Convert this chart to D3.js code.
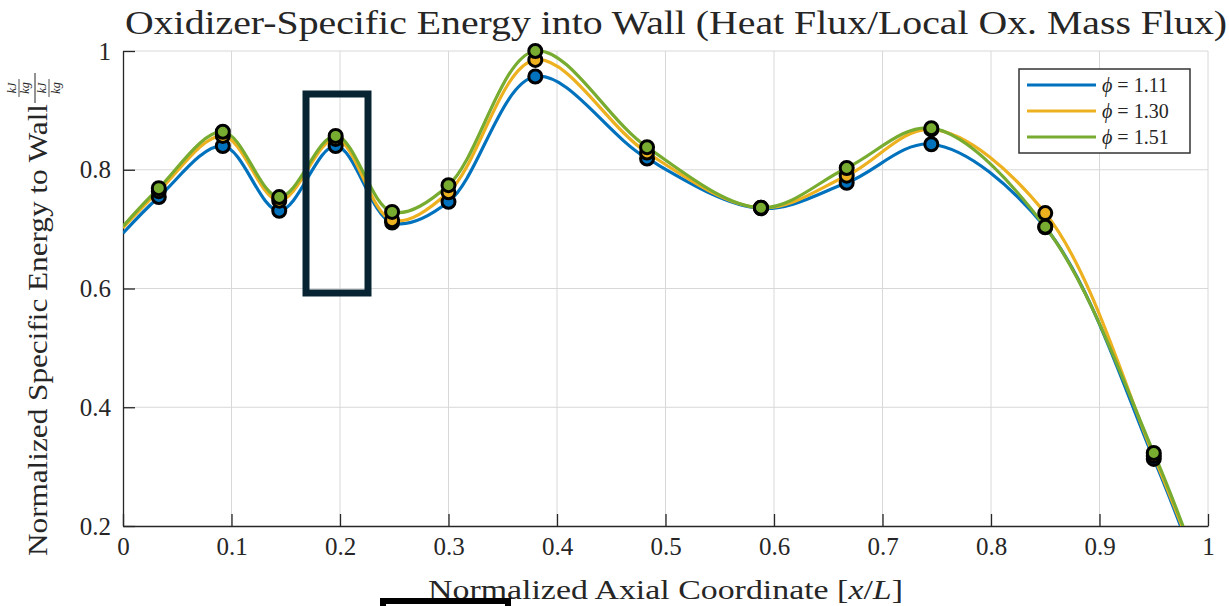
<!DOCTYPE html>
<html><head><meta charset="utf-8">
<script src="https://cdn.jsdelivr.net/npm/d3@7"></script>
<style>
html,body{margin:0;padding:0;background:#fff;}
svg{display:block;}
text{font-family:"Liberation Serif","DejaVu Serif",serif;fill:#262626;}
</style></head>
<body>
<svg id="c" width="1229" height="606"></svg>
<script>
// ---- data ----
const xPositions = [0.033, 0.092, 0.144, 0.196, 0.248, 0.300, 0.380, 0.483, 0.588, 0.667, 0.745, 0.850, 0.950];
const phi111 = [0.754, 0.840, 0.731, 0.840, 0.711, 0.746, 0.957, 0.819, 0.735, 0.778, 0.843, 0.703, 0.313];
const phi130 = [0.764, 0.857, 0.748, 0.852, 0.715, 0.762, 0.985, 0.829, 0.736, 0.790, 0.868, 0.727, 0.318];
const phi151 = [0.769, 0.864, 0.754, 0.857, 0.729, 0.774, 1.000, 0.838, 0.736, 0.803, 0.870, 0.704, 0.323];
const curveStart = [0.693, 0.702, 0.705];   // curve value at x = 0
const curveEnd = [0.075, 0.085, 0.085];     // curve value at x = 1 (below visible range)
const seriesNames = ["\u03D5 = 1.11", "\u03D5 = 1.30", "\u03D5 = 1.51"];
const seriesColors = ["#0072BD", "#EDB120", "#77AC30"];
const xTicks = [0, 0.1, 0.2, 0.3, 0.4, 0.5, 0.6, 0.7, 0.8, 0.9, 1];
const yTicks = [0.2, 0.4, 0.6, 0.8, 1];
const titleText = "Oxidizer-Specific Energy into Wall (Heat Flux/Local Ox. Mass Flux)";
const xLabelText = "Normalized Axial Coordinate ";
const yLabelText = "Normalized Specific Energy to Wall";

const seriesValues = [phi111, phi130, phi151];

const svg = d3.select("#c");
const L = 123, R = 1208, T = 51, B = 526;
const x = d3.scaleLinear().domain([0, 1]).range([L, R]);
const y = d3.scaleLinear().domain([0.2, 1]).range([B, T]);

// grid
const grid = svg.append("g");
grid.selectAll("line.gx").data(xTicks.slice(1)).join("line")
  .attr("x1", d => x(d)).attr("x2", d => x(d)).attr("y1", T).attr("y2", B)
  .attr("stroke", "#d8d8d8").attr("stroke-width", 1);
grid.selectAll("line.gy").data(yTicks.slice(1)).join("line")
  .attr("x1", L).attr("x2", R).attr("y1", d => y(d)).attr("y2", d => y(d))
  .attr("stroke", "#d8d8d8").attr("stroke-width", 1);

// axes
const fmt = d => (d === 0 || d === 1) ? String(d) : d.toFixed(1);
const xAxis = d3.axisBottom(x).tickValues(xTicks).tickFormat(fmt).tickSizeInner(-12).tickSizeOuter(0).tickPadding(22);
const yAxis = d3.axisLeft(y).tickValues(yTicks).tickFormat(fmt).tickSizeInner(-12).tickSizeOuter(0).tickPadding(24);
const gx = svg.append("g").attr("transform", `translate(0,${B})`).call(xAxis);
const gy = svg.append("g").attr("transform", `translate(${L},0)`).call(yAxis);
[gx, gy].forEach(g => {
  g.select(".domain").attr("stroke", "#262626").attr("stroke-width", 1.3);
  g.selectAll(".tick line").attr("stroke", "#262626").attr("stroke-width", 1.3);
  g.selectAll(".tick text").attr("font-family", "'Liberation Serif', serif").attr("font-size", 25).attr("fill", "#262626");
});
gx.selectAll(".tick text").attr("dy", "0.71em").attr("y", 11);
gy.selectAll(".tick text").attr("x", -12).attr("dy", "0.32em");

// clip
svg.append("clipPath").attr("id", "clip").append("rect")
  .attr("x", L).attr("y", T - 10).attr("width", R - L + 10).attr("height", B - T + 10);

// lines
const line = d3.line().x(d => x(d[0])).y(d => y(d[1])).curve(d3.curveCatmullRom.alpha(0.5));
const lineG = svg.append("g").attr("clip-path", "url(#clip)");
seriesValues.forEach((vals, i) => {
  const pts = [[0, curveStart[i]]].concat(xPositions.map((xv, j) => [xv, vals[j]])).concat([[1, curveEnd[i]]]);
  lineG.append("path").datum(pts).attr("d", line)
    .attr("fill", "none").attr("stroke", seriesColors[i]).attr("stroke-width", 3.2)
    .attr("stroke-linejoin", "round");
});
// markers
seriesValues.forEach((vals, i) => {
  svg.append("g").selectAll("circle").data(xPositions.map((xv, j) => [xv, vals[j]])).join("circle")
    .attr("cx", d => x(d[0])).attr("cy", d => y(d[1])).attr("r", 6.5)
    .attr("fill", seriesColors[i]).attr("stroke", "#000").attr("stroke-width", 3);
});

// legend
const lg = svg.append("g");
lg.append("rect").attr("x", 1019).attr("y", 69).attr("width", 171).attr("height", 84)
  .attr("fill", "#fff").attr("stroke", "#333").attr("stroke-width", 1.5);
seriesNames.forEach((n, i) => {
  const yy = 85 + i * 26;
  lg.append("line").attr("x1", 1027).attr("x2", 1096).attr("y1", yy).attr("y2", yy)
    .attr("stroke", seriesColors[i]).attr("stroke-width", 3.2);
  const t = lg.append("text").attr("x", 1102).attr("y", yy).attr("dy", "0.35em").attr("font-size", 20);
  t.append("tspan").attr("font-style", "italic").text("\u03D5");
  t.append("tspan").text(" = " + n.split("= ")[1]);
});

// title
svg.append("text").attr("x", 125).attr("y", 34).attr("font-size", 33)
  .attr("textLength", 1102).attr("lengthAdjust", "spacingAndGlyphs")
  .attr("fill", "#000").text(titleText);

// x label
const xl = svg.append("text").attr("x", 428).attr("y", 599).attr("font-size", 27).attr("fill", "#262626");
xl.append("tspan").text(xLabelText + "[");
xl.append("tspan").attr("font-style", "italic").text("x");
xl.append("tspan").text("/");
xl.append("tspan").attr("font-style", "italic").text("L");
xl.append("tspan").text("]");
xl.attr("textLength", 475).attr("lengthAdjust", "spacingAndGlyphs");

// y label with stacked fraction
const yl = svg.append("g").attr("transform", "translate(47,556) rotate(-90)");
yl.append("text").attr("x", 0).attr("y", 0).attr("font-size", 27)
  .attr("textLength", 452).attr("lengthAdjust", "spacingAndGlyphs").text(yLabelText);
const fx = 468; // fraction center along the label
const fr = yl.append("g").attr("font-style", "italic").attr("font-size", 12).attr("text-anchor", "middle");
fr.append("text").attr("x", fx).attr("y", -31).text("kJ");
fr.append("line").attr("x1", fx - 9).attr("x2", fx + 9).attr("y1", -28).attr("y2", -28).attr("stroke", "#262626").attr("stroke-width", 0.8);
fr.append("text").attr("x", fx).attr("y", -18).text("kg");
fr.append("line").attr("x1", fx - 15).attr("x2", fx + 15).attr("y1", -12).attr("y2", -12).attr("stroke", "#262626").attr("stroke-width", 1);
fr.append("text").attr("x", fx).attr("y", -1).text("kJ");
fr.append("line").attr("x1", fx - 9).attr("x2", fx + 9).attr("y1", 2).attr("y2", 2).attr("stroke", "#262626").attr("stroke-width", 0.8);
fr.append("text").attr("x", fx).attr("y", 13).text("kg");

// annotation rectangles overlaid on the figure
svg.append("rect").attr("x", 306).attr("y", 94).attr("width", 62).attr("height", 199)
  .attr("fill", "none").attr("stroke", "#082433").attr("stroke-width", 7);
svg.append("rect").attr("x", 383).attr("y", 601).attr("width", 125).attr("height", 20)
  .attr("fill", "none").attr("stroke", "#000").attr("stroke-width", 6);
</script>
</body></html>
